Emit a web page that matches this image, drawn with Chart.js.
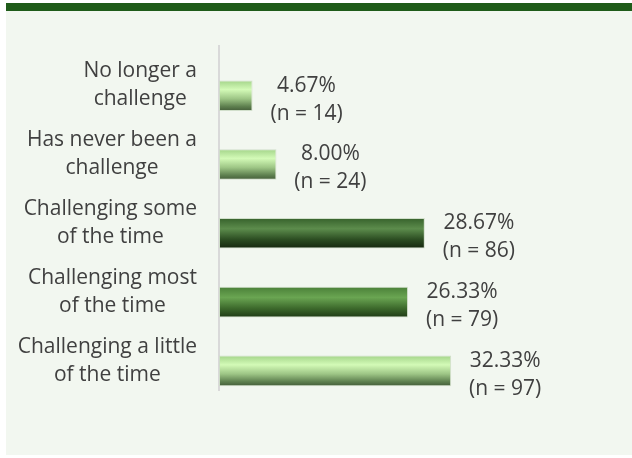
<!DOCTYPE html>
<html><head><meta charset="utf-8">
<script src="https://cdn.jsdelivr.net/npm/chart.js@4.4.1/dist/chart.umd.min.js"></script>
<style>
html,body{margin:0;padding:0;background:#fff;width:632px;height:458px;overflow:hidden}
#bg{position:absolute;left:6px;top:3px;width:626px;height:452px;background:#f2f7f0}
#bar{position:absolute;left:6px;top:3px;width:626px;height:8px;background:#1f5c1a}
#cv{position:absolute;left:0;top:0}
</style></head><body>
<div id="bg"></div><div id="bar"></div>
<canvas id="cv" width="632" height="458"></canvas>
<script>
const categories = [
  ["No longer a","challenge"],
  ["Has never been a","challenge"],
  ["Challenging some","of the time"],
  ["Challenging most","of the time"],
  ["Challenging a little","of the time"]
];
const percents = [4.67, 8.00, 28.67, 26.33, 32.33];
const counts = [14, 24, 86, 79, 97];
const spacerSeries = [null, null, null, null, null];
const barStyles = ["light","light","dark","medium","light"];

const FONT = "'Open Sans', sans-serif";
const FSIZE = 21;
const TEXT = '#404040';
const stopsByStyle = {
  light: [[0,'#a3d489'],[0.3,'#d3fab7'],[0.6,'#9dc585'],[0.85,'#5e804f'],[1,'#435c38']],
  dark: [[0,'#36612b'],[0.35,'#5c8c4c'],[0.7,'#2c4d22'],[1,'#15260e']],
  medium: [[0,'#4a8038'],[0.35,'#6aa552'],[0.7,'#3d6a2c'],[1,'#1f3a15']]
};

const gradientPlugin = {
  id: 'barGradients',
  beforeDatasetsDraw(chart){
    const meta = chart.getDatasetMeta(1);
    meta.data.forEach((el, i) => {
      const h = el.height;
      const g = chart.ctx.createLinearGradient(0, el.y - h/2, 0, el.y + h/2);
      stopsByStyle[barStyles[i]].forEach(s => g.addColorStop(s[0], s[1]));
      el.options.backgroundColor = g;
    });
  }
};

const labelPlugin = {
  id: 'textLabels',
  afterDraw(chart){
    const c = chart.ctx;
    const meta = chart.getDatasetMeta(1);
    const yScale = chart.scales.y;
    c.save();
    c.font = FSIZE + "px " + FONT;
    c.fillStyle = TEXT;
    c.textAlign = 'center';
    c.textBaseline = 'middle';
    // value labels
    meta.data.forEach((el, i) => {
      const x = el.x + 54;
      c.fillText(percents[i].toFixed(2) + '%', x, el.y - 10);
      c.fillText('(n = ' + counts[i] + ')', x, el.y + 18);
    });
    // category labels: block right-aligned to axis, lines centered within block
    const right = yScale.right - 22;
    categories.forEach((lines, i) => {
      const w = Math.max(...lines.map(l => c.measureText(l).width));
      const cx = right - w / 2;
      const cy = yScale.getPixelForTick(i) + 5;
      lines.forEach((l, k) => {
        c.fillText(l, cx, cy + (k - (lines.length - 1) / 2) * 28);
      });
    });
    c.restore();
  }
};

new Chart(document.getElementById('cv'), {
  type: 'bar',
  data: {
    labels: categories,
    datasets: [
      { data: spacerSeries, backgroundColor: 'rgba(0,0,0,0)', borderWidth: 0,
        categoryPercentage: 0.89, barPercentage: 1.0 },
      {
        data: percents,
        backgroundColor: (ctx) => '#a7cd8a',
        borderColor: 'rgba(205,220,198,0.9)',
        borderWidth: 1,
        borderSkipped: false,
        categoryPercentage: 0.89,
        barPercentage: 1.0
      }
    ]
  },
  options: {
    indexAxis: 'y',
    responsive: false,
    animation: false,
    devicePixelRatio: 1,
    layout: { padding: { top: 46, bottom: 68, left: 0, right: 54 } },
    plugins: { legend: { display: false }, tooltip: { enabled: false } },
    scales: {
      x: { display: false, min: 0, max: 50 },
      y: {
        afterFit(scale){ scale.width = 219; },
        grid: { display: false, drawTicks: false },
        border: { display: true, color: '#d9d9d9', width: 2 },
        ticks: { display: false }
      }
    }
  },
  plugins: [gradientPlugin, labelPlugin]
});
</script>
</body></html>
